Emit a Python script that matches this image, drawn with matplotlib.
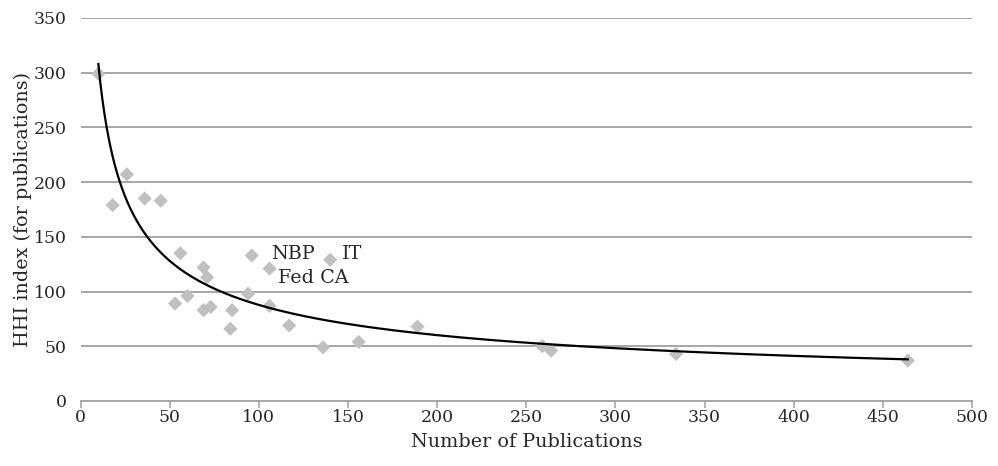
import numpy as np
import matplotlib
matplotlib.use("Agg")
import matplotlib.pyplot as plt

plt.rcParams["font.family"] = ["DejaVu Serif", "Liberation Serif"]

# publications vs HHI index, one point per institution
pubs = [10, 18, 26, 36, 45, 53, 56, 60, 69, 69, 71, 73, 84, 85, 94, 96,
        106, 106, 117, 136, 140, 156, 189, 259, 264, 334, 464]
hhi = [299, 179, 207, 185, 183, 89, 135, 96, 122, 83, 113, 86, 66, 83, 98, 133,
       121, 87, 69, 49, 129, 54, 68, 50, 46, 43, 37]

# power trend line y = a * x^b
trend_a = 1080
trend_b = -0.545
trend_x = np.linspace(10, 464, 400)

notes = [("NBP", 107, 134), ("IT", 146.5, 134), ("Fed CA", 111, 112)]

txt_col = "#262626"
fs_tick = 12.4
fs_lab = 13.8

fig = plt.figure(figsize=(9.98, 4.66), dpi=100)
ax = fig.add_axes([0.0807, 0.1395, 0.8933, 0.8219])

ax.scatter(pubs, hhi, marker="D", s=52, color="#c0c0c0", edgecolors="none", zorder=3)
ax.plot(trend_x, trend_a * trend_x ** trend_b, color="black", lw=1.6, zorder=4)

for txt, x, y in notes:
    ax.text(x, y, txt, fontsize=fs_lab, va="center", ha="left", color=txt_col)

ax.set_xlim(0, 500)
ax.set_ylim(0, 350)
ax.set_xticks(np.arange(0, 501, 50))
ax.set_yticks(np.arange(0, 351, 50))
ax.grid(axis="y", color="#a6a6a6", lw=1.4)
ax.set_axisbelow(True)
for s in ["top", "right", "left"]:
    ax.spines[s].set_visible(False)
ax.spines["bottom"].set_color("#a6a6a6")
ax.spines["bottom"].set_linewidth(1.4)
ax.tick_params(axis="x", direction="out", length=5, color="#a6a6a6", width=1.2,
               labelsize=fs_tick, labelcolor=txt_col, pad=1)
ax.tick_params(axis="y", length=0, labelsize=fs_tick, labelcolor=txt_col, pad=10)
ax.set_xlabel("Number of Publications", fontsize=fs_lab, color=txt_col, labelpad=5)
ax.set_ylabel("HHI index (for publications)", fontsize=fs_lab, color=txt_col, labelpad=1)

fig.savefig("out.png", dpi=100)
